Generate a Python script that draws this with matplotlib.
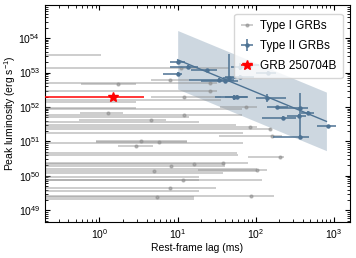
import numpy as np
import matplotlib
matplotlib.use("Agg")
import matplotlib.pyplot as plt

plt.rcParams['font.family'] = ['Liberation Sans', 'DejaVu Sans']
plt.rcParams['mathtext.fontset'] = 'custom'
plt.rcParams['mathtext.rm'] = 'Liberation Sans'
plt.rcParams['mathtext.it'] = 'Liberation Sans:italic'
plt.rcParams['font.size'] = 7.5

# ---------------- Type I GRBs (lag ms, lag lower, lag upper, log10 Lpeak)
t1_lag = [0.05, 11, 26, 1.75, 8, 26, 12, 0.05, 0.05, 75, 0.05, 0.05, 1.3, 12,
          0.05, 4.5, 0.05, 0.05, 85, 150, 0.05, 160, 3.4, 5.7, 0.05, 2.9, 0.05,
          0.05, 205, 38, 16, 8.3, 0.05, 105, 5.0, 0.05, 0.05, 11.7, 0.05, 7.9,
          0.05, 88, 5.4, 0.05]
t1_lo = [0.001, 0.01, 0.01, 0.58, 4.5, 0.01, 4.5, 0.001, 0.001, 35, 0.001, 0.001,
         0.57, 0.01, 0.001, 0.55, 0.001, 0.001, 0.01, 0.01, 0.001, 34, 0.9, 0.9,
         0.001, 1.75, 0.001, 0.001, 80, 0.01, 0.01, 0.01, 0.001, 18, 0.01, 0.001,
         0.001, 0.01, 0.001, 0.01, 0.001, 0.01, 0.01, 0.001]
t1_hi = [1.06, 46, 32, 2.95, 14, 32, 36, 36, 2.95, 105, 2.95, 66, 2.0, 66,
         14, 7.0, 19, 56, 105, 155, 69, 215, 13, 13, 69, 4.8, 58, 60,
         230, 80, 40, 40, 105, 140, 105, 38, 19, 19, 120, 31, 19, 170, 16, 16]
t1_logL = [53.50, 53.13, 52.71, 52.66, 52.79, 52.45, 52.29, 52.20, 52.14, 52.01,
           51.97, 51.94, 51.82, 51.77, 51.72, 51.63, 51.56, 51.48, 51.42, 51.36,
           51.23, 51.15, 51.01, 50.99, 50.96, 50.88, 50.66, 50.61, 50.55, 50.37,
           50.35, 50.28, 50.21, 50.18, 50.13, 50.08, 49.97, 49.89, 49.87, 49.65,
           49.55, 49.42, 49.38, 49.33]

# ---------------- Type II GRBs
t2_lag = [10, 13.5, 10.2, 24, 46, 63, 84, 34, 40, 63, 52, 137, 57, 184, 365,
          466, 220, 357, 365, 830, 145]
t2_lo = [6.5, 8.0, 8.0, 15, 38, 48, 64, 14, 20, 40, 30, 100, 40, 140, 200,
         380, 120, 250, 165, 600, 100]
t2_hi = [11.5, 18, 12.5, 32, 58, 90, 110, 52, 60, 95, 80, 240, 76, 260, 470,
         560, 330, 440, 480, 1050, 180]
t2_logL = [52.96, 53.16, 53.32, 53.06, 52.83, 53.17, 53.23, 52.79, 52.74, 52.88,
           52.28, 52.25, 52.30, 51.99, 51.97, 51.82, 51.68, 51.74, 51.14, 51.44,
           53.00]
t2_dlo = [0.05, 0.05, 0.05, 0.05, 0.05, 0.10, 0.05, 0.05, 0.05, 0.05, 0.08, 0.10,
          0.05, 0.05, 0.87, 0.05, 0.05, 0.05, 0.05, 0.05, 0.05]
t2_dhi = [0.05, 0.05, 0.05, 0.05, 0.72, 0.10, 0.05, 0.05, 0.05, 0.05, 0.08, 0.12,
          0.05, 0.05, 0.43, 0.05, 0.05, 0.05, 0.05, 0.05, 0.05]

# ---------------- GRB 250704B
grb_lag, grb_lo, grb_hi = 1.5, 0.001, 3.7
grb_logL = 52.30

# ---------------- Type II correlation fit and scatter band
fit_norm, fit_slope, fit_pivot, fit_scatter = 53.37, -0.94, 10.0, 0.85
fit_range = (10.0, 800.0)

blue = '#4d7293'
grey = '#8c8c8c'

fig = plt.figure(figsize=(3.56, 2.58), dpi=100)
ax = fig.add_axes([0.126, 0.140, 0.857, 0.841])

xf = np.logspace(np.log10(fit_range[0]), np.log10(fit_range[1]), 100)
lf = fit_norm + fit_slope * np.log10(xf / fit_pivot)
ax.fill_between(xf, 10 ** (lf - fit_scatter), 10 ** (lf + fit_scatter),
                color=blue, alpha=0.28, lw=0, zorder=1)
ax.plot(xf, 10 ** lf, color=blue, lw=1.0, zorder=3)

x1 = np.array(t1_lag); y1 = 10 ** np.array(t1_logL)
ax.errorbar(x1, y1, xerr=[x1 - np.array(t1_lo), np.array(t1_hi) - x1],
            fmt='o', ms=2, color=grey, ecolor=grey, elinewidth=1.1,
            alpha=0.55, capsize=0, zorder=2, label='Type I GRBs')

x2 = np.array(t2_lag); l2 = np.array(t2_logL); y2 = 10 ** l2
ax.errorbar(x2, y2, xerr=[x2 - np.array(t2_lo), np.array(t2_hi) - x2],
            yerr=[y2 - 10 ** (l2 - np.array(t2_dlo)), 10 ** (l2 + np.array(t2_dhi)) - y2],
            fmt='o', ms=2.2, color=blue, ecolor=blue, elinewidth=1.1,
            capsize=0, zorder=4, label='Type II GRBs')

ax.errorbar([grb_lag], [10 ** grb_logL], xerr=[[grb_lag - grb_lo], [grb_hi - grb_lag]],
            fmt='*', ms=7, color='red', ecolor='red', elinewidth=1.1,
            capsize=0, zorder=5, label='GRB 250704B')

ax.set_xscale('log'); ax.set_yscale('log')
ax.set_xlim(0.2, 1600)
ax.set_ylim(4.6e48, 9.2e54)
ax.set_xlabel('Rest-frame lag (ms)', fontsize=7.5, labelpad=2)
ax.set_ylabel('Peak luminosity (erg s$^{-1}$)', fontsize=7.5)
ax.yaxis.set_label_coords(-0.088, 0.5)
ax.tick_params(which='both', direction='in', top=True, right=True, labelsize=7.5)
ax.tick_params(which='major', length=3.5)
ax.tick_params(which='minor', length=2)

ax.legend(loc='upper right', fontsize=8.5, frameon=True, handlelength=1.2,
          borderpad=0.5, labelspacing=0.7, handletextpad=0.5,
          bbox_to_anchor=(0.995, 0.985))

fig.savefig('out.png', dpi=100)
